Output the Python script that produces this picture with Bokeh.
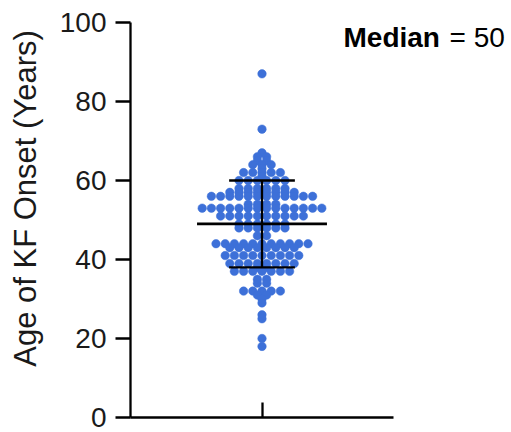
import math
from collections import defaultdict
from bokeh.plotting import figure
from bokeh.models import FixedTicker, Range1d
from bokeh.core.properties import value
from bokeh.embed import file_html
from bokeh.resources import INLINE

# ---- data (ages of KF onset) ----
ages = [87, 73,
        67, 66, 66, 65, 65, 64, 64, 64, 63, 62, 62, 62, 62, 62, 61,
        60, 60, 60, 60, 60, 60,
        58, 58, 58, 58, 58, 58,
        57, 57, 57, 57, 57, 57, 57, 57,
        56, 56, 56, 56, 56, 56, 56, 56, 56, 56, 56, 56,
        54, 54, 54, 54,
        53, 53, 53, 53, 53, 53, 53, 53, 53, 53, 53, 53, 53, 53,
        51, 51, 51, 51, 51, 51, 51, 51, 51, 51,
        49, 49, 49, 49, 49, 49,
        48, 48, 48, 48, 48, 48,
        46, 46,
        44, 44, 44, 44, 44, 44, 44, 44, 44, 44, 44,
        43, 43, 43, 43, 43, 43, 43, 43,
        41, 41, 41, 41, 41, 41, 41, 41, 41,
        39, 39, 39, 39, 39, 39, 39, 39,
        38, 38,
        37, 37, 37, 37, 37, 37, 37,
        35, 35, 34, 34,
        32, 32, 32, 32, 32,
        31, 31, 30, 29, 26, 25, 20, 18]
summary_center = 49   # horizontal line
summary_low = 38      # lower whisker
summary_high = 60     # upper whisker
y_ticks = [0, 20, 40, 60, 80, 100]
y_label = "Age of KF Onset (Years)"
median_word = "Median"
median_value = "= 50"

# ---- layout ----
W, H = 511, 432
B_LEFT, B_RIGHT, B_TOP, B_BOTTOM = 130, 3, 22, 15
AXIS_RIGHT_PX = 393          # where the x axis line ends
frame_w = W - B_LEFT - B_RIGHT
frame_h = H - B_TOP - B_BOTTOM
X0 = -1.0
xpx = (AXIS_RIGHT_PX - B_LEFT) / 2.0      # px per x unit (axis spans -1..1)
X1 = X0 + frame_w / xpx
Y0, Y1 = 0, 100
ypx = frame_h / (Y1 - Y0)

FONT = "Liberation Sans"
BLUE = "#3d70d8"
DOT = 8.5
SPACING = 9.2   # px between neighbours in a row


def row_layout(vals):
    """Prism-like layout: equal values share a row, centred on the category."""
    groups = defaultdict(list)
    for i, v in enumerate(vals):
        groups[v].append(i)
    xs = [0.0] * len(vals)
    for v, idx in groups.items():
        n = len(idx)
        for k, i in enumerate(idx):
            xs[i] = (k - (n - 1) / 2.0) * SPACING / xpx
    return xs


xoff = row_layout(ages)

p = figure(width=W, height=H, output_backend="svg", toolbar_location=None,
           x_range=Range1d(X0, X1), y_range=Range1d(Y0, Y1),
           min_border_left=B_LEFT, min_border_right=B_RIGHT,
           min_border_top=B_TOP, min_border_bottom=B_BOTTOM)
p.outline_line_color = None
p.grid.visible = False
p.background_fill_color = "white"
p.border_fill_color = "white"

p.scatter(x=xoff, y=ages, size=DOT, fill_color=BLUE, line_color=BLUE,
          line_width=0.5)

# mean / whiskers
p.segment(x0=[-0.494], x1=[0.494], y0=[summary_center], y1=[summary_center],
          line_color="black", line_width=2.8)
p.segment(x0=[0], x1=[0], y0=[summary_low], y1=[summary_high],
          line_color="black", line_width=2.3)
p.segment(x0=[-0.25, -0.25], x1=[0.25, 0.25], y0=[summary_low, summary_high],
          y1=[summary_low, summary_high], line_color="black", line_width=2.3)

# y axis
ya = p.yaxis[0]
ya.ticker = FixedTicker(ticks=y_ticks)
ya.major_tick_out = 15
ya.major_tick_in = 0
ya.minor_tick_line_color = None
ya.axis_line_width = 2.3
ya.major_tick_line_width = 2.3
ya.axis_line_color = "black"
ya.major_tick_line_color = "black"
ya.major_label_text_font = FONT
ya.major_label_text_font_size = "28px"
ya.major_label_text_color = "#1a1a1a"
ya.major_label_standoff = 9
ya.axis_label = "\u00a0" * 5 + y_label
ya.axis_label_text_font = FONT
ya.axis_label_text_font_size = "31px"
ya.axis_label_text_font_style = "normal"
ya.axis_label_text_color = "#1a1a1a"
ya.axis_label_standoff = 14

# x axis (line only between -1 and 1), single unlabeled tick
xa = p.xaxis[0]
xa.bounds = (-1, 1)
xa.ticker = FixedTicker(ticks=[0])
xa.major_label_overrides = {0: ""}
xa.major_tick_in = 15
xa.major_tick_out = 0
xa.minor_tick_line_color = None
xa.axis_line_width = 2.3
xa.major_tick_line_width = 2.3
xa.axis_line_color = "black"
xa.major_tick_line_color = "black"
xa.major_label_text_font_size = "1px"
xa.major_label_standoff = 0

# median annotation
ymid = (H - B_BOTTOM - 36.5) / ypx
p.text(x=[X0 + (343 - B_LEFT) / xpx], y=[ymid], text=[median_word],
       text_align="left", text_baseline="middle",
       text_font=value(FONT), text_font_style="bold",
       text_font_size="28px", text_color="black")
p.text(x=[X0 + (449 - B_LEFT) / xpx], y=[ymid], text=[median_value],
       text_align="left", text_baseline="middle",
       text_font=value(FONT), text_font_size="28px", text_color="black")

open("out.html", "w").write(file_html(p, INLINE))
